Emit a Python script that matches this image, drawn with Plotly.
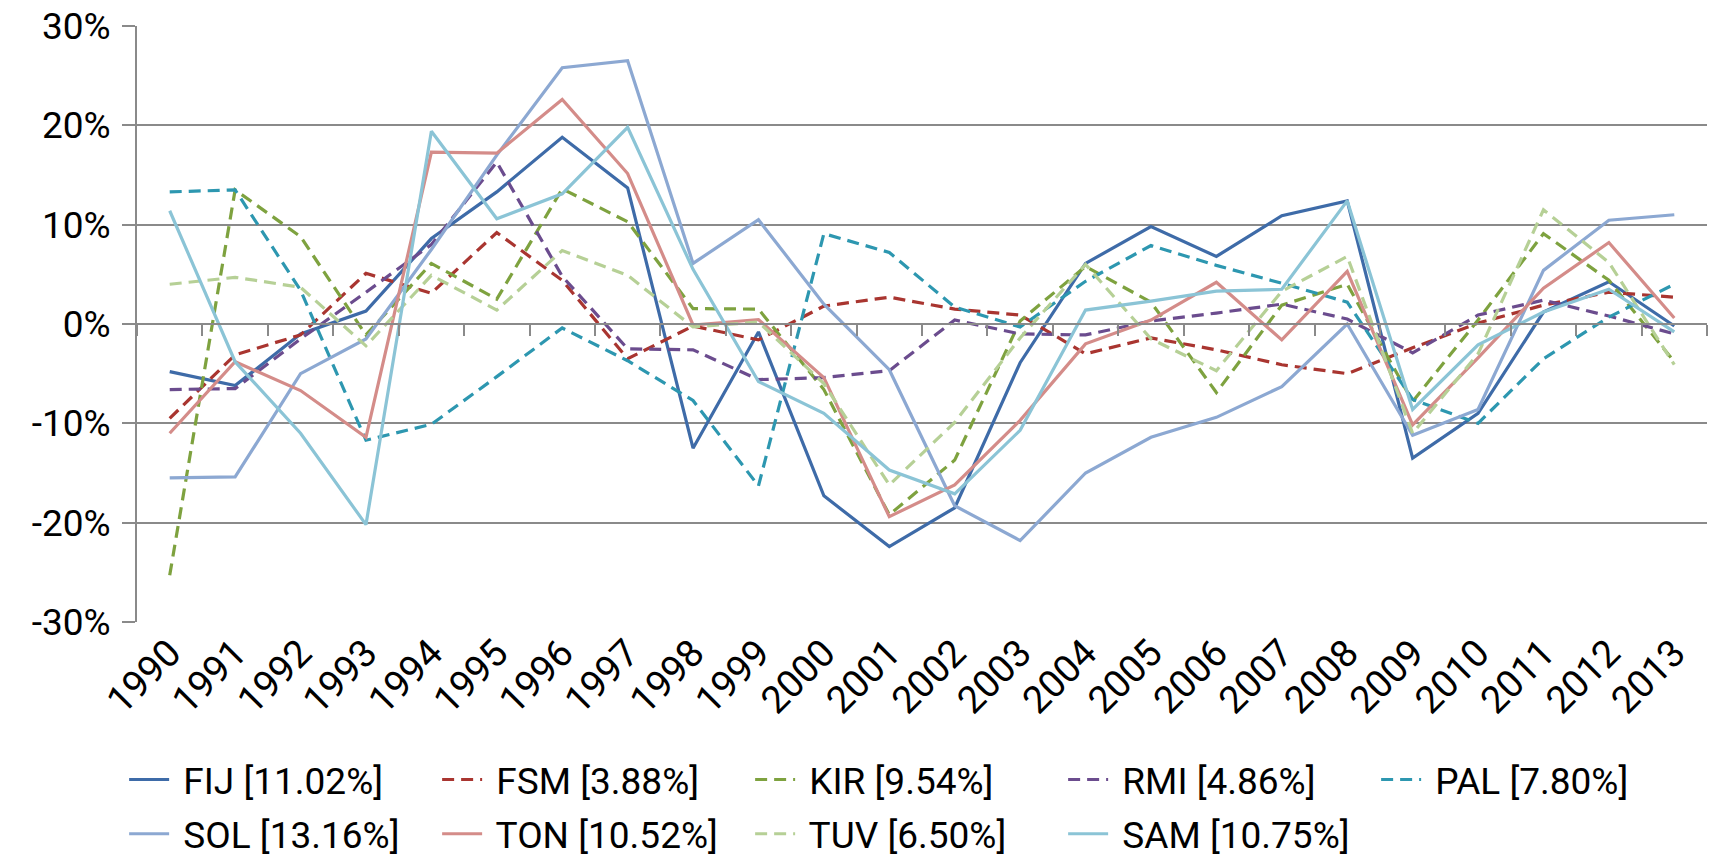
import plotly.graph_objects as go

# anos e séries (variação anual, em %)
years = [str(y) for y in range(1990, 2014)]

codes = ["FIJ", "FSM", "KIR", "RMI", "PAL", "SOL", "TON", "TUV", "SAM"]
avg_pct = [11.02, 3.88, 9.54, 4.86, 7.80, 13.16, 10.52, 6.50, 10.75]

fij = [-4.8, -6.2, -1.0, 1.3, 8.6, 13.3, 18.8, 13.7, -12.5, -0.8, -17.3, -22.4,
       -18.5, -3.9, 6.1, 9.8, 6.8, 10.9, 12.4, -13.5, -9.0, 1.2, 4.25, -0.2]
fsm = [-9.5, -3.1, -1.1, 5.1, 3.1, 9.2, 4.4, -3.5, -0.2, -1.6, 1.8, 2.7,
       1.5, 0.9, -3.0, -1.4, -2.6, -4.1, -5.0, -2.4, 0.1, 1.9, 3.2, 2.7]
kir = [-25.3, 13.5, 8.8, -1.1, 6.1, 2.5, 13.6, 10.3, 1.55, 1.5, -6.6, -19.2,
       -13.7, 0.3, 5.8, 2.2, -6.9, 1.9, 4.0, -7.8, 0.4, 9.1, 4.4, -3.8]
rmi = [-6.6, -6.5, -1.5, 3.2, 8.0, 16.3, 4.8, -2.5, -2.6, -5.6, -5.4, -4.7,
       0.4, -1.0, -1.1, 0.3, 1.1, 2.0, 0.5, -2.9, 0.9, 2.4, 0.8, -1.0]
pal = [13.3, 13.5, 3.4, -11.7, -10.1, -5.3, -0.4, -3.7, -7.7, -16.3, 9.1, 7.2,
       1.7, -0.3, 4.3, 7.9, 5.9, 4.1, 2.2, -7.6, -10.0, -3.5, 0.7, 4.0]
sol = [-15.5, -15.4, -5.0, -1.5, 7.5, 17.0, 25.8, 26.5, 6.1, 10.5, 2.0, -4.6,
       -18.3, -21.8, -15.0, -11.4, -9.4, -6.3, 0.0, -11.2, -8.6, 5.4, 10.45, 11.0]
ton = [-11.0, -3.8, -6.7, -11.4, 17.3, 17.2, 22.6, 15.15, -0.1, 0.45, -5.4, -19.4,
       -16.2, -9.7, -2.0, 0.4, 4.2, -1.6, 5.3, -10.15, -3.4, 3.6, 8.2, 0.6]
tuv = [4.0, 4.7, 3.7, -2.2, 4.9, 1.4, 7.4, 4.9, -0.3, 0.2, -6.0, -16.2,
       -9.9, -1.4, 6.0, -1.5, -4.7, 3.3, 6.8, -11.0, -3.0, 11.5, 6.2, -4.1]
sam = [11.4, -3.8, -11.0, -20.2, 19.4, 10.6, 13.1, 19.8, 5.5, -5.8, -9.0, -14.7,
       -17.1, -10.7, 1.4, 2.3, 3.3, 3.5, 12.4, -8.6, -2.1, 1.2, 3.5, -0.8]

series = [fij, fsm, kir, rmi, pal, sol, ton, tuv, sam]
colors = ["#3E6BA8", "#A93530", "#7EA23F", "#6B4C8E", "#2D97B0",
          "#8CA8D2", "#D48C89", "#B6D096", "#8BC4D6"]
dashed = [False, True, True, True, True, False, False, True, False]

y_ticks = [-30, -20, -10, 0, 10, 20, 30]

GRID = "#8a8a8a"
FONT = "Roboto"
FS = 37

fig = go.Figure()

for i, (code, pct, vals) in enumerate(zip(codes, avg_pct, series)):
    fig.add_trace(go.Scatter(
        x=years, y=vals, mode="lines",
        name=f" {code} [{pct:.2f}%]",
        line=dict(color=colors[i], width=3.2, dash="12px,7px" if dashed[i] else "solid"),
        legend="legend" if i < 5 else "legend2",
    ))

# traço invisível só para os rótulos do eixo x embaixo
fig.add_trace(go.Scatter(
    x=years, y=fij, xaxis="x2", mode="lines", opacity=0,
    line=dict(width=0), showlegend=False, hoverinfo="skip",
))

n = len(years)
leg = dict(
    orientation="h", x=-0.0082, xanchor="left", yanchor="middle",
    font=dict(family=FONT, size=FS, color="black"),
    itemwidth=40, entrywidth=258, entrywidthmode="pixels",
    bgcolor="rgba(0,0,0,0)", traceorder="normal",
)
fig.update_layout(
    width=1713, height=856,
    margin=dict(l=137, r=6, t=26, b=234, autoexpand=False),
    plot_bgcolor="white", paper_bgcolor="white",
    font=dict(family=FONT, size=FS, color="black"),
    xaxis=dict(
        type="category", categoryorder="array", categoryarray=years,
        range=[-0.5, n - 0.5], anchor="free", position=0.5,
        showline=True, linecolor=GRID, linewidth=2,
        ticks="outside", tickson="boundaries", ticklen=11, tickwidth=2, tickcolor=GRID,
        showticklabels=False, showgrid=False, zeroline=False, automargin=False,
    ),
    xaxis2=dict(
        type="category", categoryorder="array", categoryarray=years,
        range=[-0.5, n - 0.5], overlaying="x", anchor="y", side="bottom",
        showline=False, ticks="", tickangle=-45, showgrid=False, zeroline=False,
        tickfont=dict(family=FONT, size=38, color="black"), automargin=False,
    ),
    yaxis=dict(
        range=[-30, 30], tickvals=y_ticks, ticktext=[f"{v}%" for v in y_ticks],
        showline=True, linecolor=GRID, linewidth=2,
        ticks="outside", ticklen=13, tickwidth=2, tickcolor=GRID,
        ticklabelstandoff=4,
        showgrid=True, gridcolor=GRID, gridwidth=2, zeroline=False,
        tickfont=dict(family=FONT, size=FS, color="black"), automargin=False,
    ),
    legend=dict(leg, y=-0.265),
    legend2=dict(leg, y=-0.356),
    showlegend=True,
)

fig.write_html("out.html", config={"displayModeBar": False},
               post_script="document.body.style.margin='0';")
